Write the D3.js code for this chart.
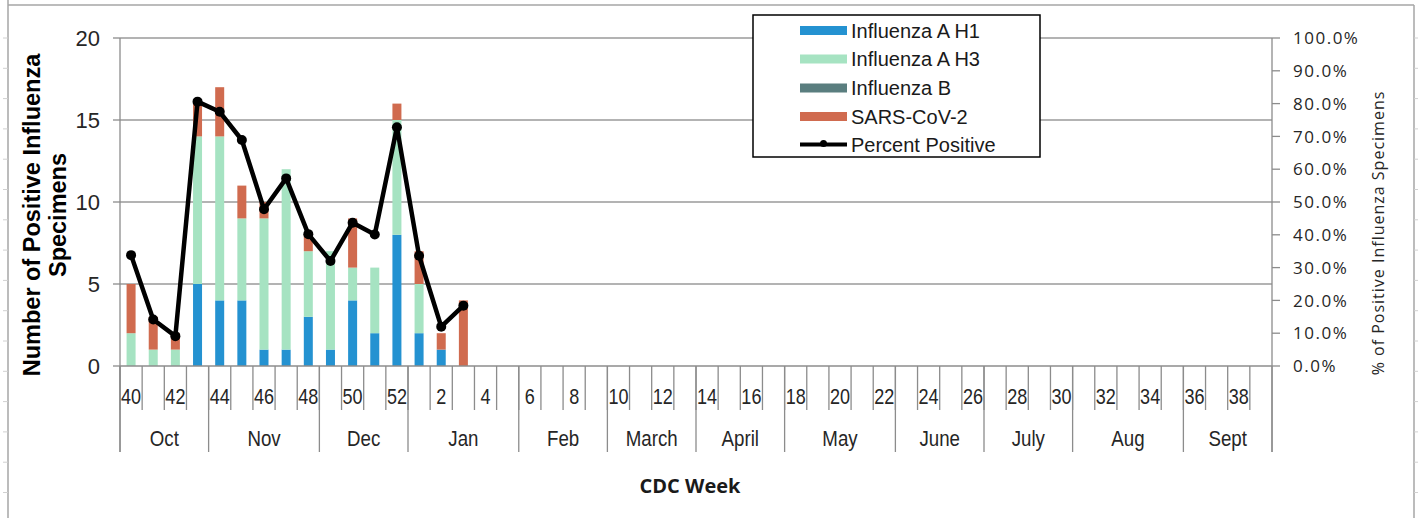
<!DOCTYPE html>
<html>
<head>
<title>Influenza positive specimens by CDC week</title>
<script src="https://cdn.jsdelivr.net/npm/d3@7"></script>
<style>
  body { margin: 0; background: #fff; }
  svg { display: block; }
</style>
</head>
<body>
<svg width="1418" height="518"></svg>
<script>
// CDC weeks for the season, 40..52 then 1..39
var weeks = [40,41,42,43,44,45,46,47,48,49,50,51,52,1,2,3,4,5,6,7,8,9,10,11,12,13,14,15,16,17,18,19,20,21,22,23,24,25,26,27,28,29,30,31,32,33,34,35,36,37,38,39]

var months = ["Oct", "Nov", "Dec", "Jan", "Feb", "March", "April", "May", "June", "July", "Aug", "Sept"]
var monthWeeks = [4, 5, 4, 5, 4, 4, 4, 5, 4, 4, 5, 4]

// counts per week (weeks with data only: 40 .. 3)
var fluH1   = [0, 0, 0, 5, 4, 4, 1, 1, 3, 1, 4, 2, 8, 2, 1, 0]
var fluH3   = [2, 1, 1, 9, 10, 5, 8, 11, 4, 6, 2, 4, 7, 3, 0, 0]
var fluB    = [0, 0, 0, 0, 0, 0, 0, 0, 0, 0, 0, 0, 0, 0, 0, 0]
var sarsCov = [3, 2, 1, 2, 3, 2, 1, 0, 1, 0, 3, 0, 1, 2, 1, 4]

var pctPositive = [0.338, 0.142, 0.091, 0.806, 0.775, 0.689, 0.478, 0.572, 0.402, 0.32, 0.437, 0.401, 0.728, 0.336, 0.12, 0.184]

var leftTicks = [0, 5, 10, 15, 20]
var rightTicks = [0, 0.1, 0.2, 0.3, 0.4, 0.5, 0.6, 0.7, 0.8, 0.9, 1]

var seriesNames = ["Influenza A H1", "Influenza A H3", "Influenza B", "SARS-CoV-2"]
var seriesColors = ["#2492d1", "#a6e3c2", "#5a7e7f", "#d06b4f"]

var svg = d3.select("svg")

var plotL = 120, plotR = 1272, plotT = 38, plotB = 366
var axisColor = "#8c8c8c"

var x = d3.scaleBand().domain(weeks).range([plotL, plotR]).padding(0)
var yL = d3.scaleLinear().domain([0, 20]).range([plotB, plotT])
var yR = d3.scaleLinear().domain([0, 1]).range([plotB, plotT])

// outer frame with faint cell ticks
svg.append("line").attr("x1", 8).attr("x2", 8).attr("y1", 0).attr("y2", 518).attr("stroke", "#a6a6a6").attr("stroke-width", 1.5)
svg.append("line").attr("x1", 1414).attr("x2", 1414).attr("y1", 5).attr("y2", 518).attr("stroke", "#a6a6a6").attr("stroke-width", 1.5)
svg.append("line").attr("x1", 8).attr("x2", 1414).attr("y1", 5).attr("y2", 5).attr("stroke", "#a6a6a6").attr("stroke-width", 1.5)
var cellTicks = d3.range(38, 518, 30.3)
svg.selectAll(".cellL").data(cellTicks).enter().append("line")
  .attr("x1", 3).attr("x2", 8).attr("y1", d => d).attr("y2", d => d)
  .attr("stroke", "#d0d0d0")
svg.selectAll(".cellR").data(cellTicks).enter().append("line")
  .attr("x1", 1414).attr("x2", 1418).attr("y1", d => d).attr("y2", d => d)
  .attr("stroke", "#d0d0d0")

// gridlines
svg.append("g").selectAll("line").data(leftTicks.slice(1)).enter().append("line")
  .attr("x1", plotL).attr("x2", plotR)
  .attr("y1", d => yL(d)).attr("y2", d => yL(d))
  .attr("stroke", "#9a9a9a").attr("stroke-width", 1.3)

// stacked bars
var rows = weeks.slice(0, fluH1.length).map(function(w, i) {
  return { week: w, "Influenza A H1": fluH1[i], "Influenza A H3": fluH3[i], "Influenza B": fluB[i], "SARS-CoV-2": sarsCov[i] }
})
var stacked = d3.stack().keys(seriesNames)(rows)
var barW = 9

svg.append("g").selectAll("g").data(stacked).enter().append("g")
  .attr("fill", (d, i) => seriesColors[i])
  .selectAll("rect").data(d => d).enter().append("rect")
  .attr("x", d => x(d.data.week) + x.bandwidth() / 2 - barW / 2)
  .attr("y", d => yL(d[1]))
  .attr("width", barW)
  .attr("height", d => yL(d[0]) - yL(d[1]))

// axes
svg.append("line").attr("x1", plotL).attr("x2", plotL).attr("y1", plotT).attr("y2", 452).attr("stroke", axisColor).attr("stroke-width", 1.3)
svg.append("line").attr("x1", plotL).attr("x2", plotR).attr("y1", plotB).attr("y2", plotB).attr("stroke", axisColor).attr("stroke-width", 1.3)
svg.append("line").attr("x1", plotR).attr("x2", plotR).attr("y1", plotT).attr("y2", 452).attr("stroke", axisColor).attr("stroke-width", 1.3)

svg.append("g").selectAll("line").data(leftTicks).enter().append("line")
  .attr("x1", plotL - 7).attr("x2", plotL).attr("y1", d => yL(d)).attr("y2", d => yL(d))
  .attr("stroke", axisColor).attr("stroke-width", 1.3)
svg.append("g").selectAll("text").data(leftTicks).enter().append("text")
  .attr("x", 100).attr("y", d => yL(d)).attr("dy", "0.36em")
  .attr("text-anchor", "end")
  .style("font", "22px 'Liberation Sans', Arial, sans-serif").attr("fill", "#262626")
  .text(d => d)

svg.append("g").selectAll("line").data(rightTicks).enter().append("line")
  .attr("x1", plotR).attr("x2", plotR + 8).attr("y1", d => yR(d)).attr("y2", d => yR(d))
  .attr("stroke", axisColor).attr("stroke-width", 1.3)
svg.append("g").selectAll("text").data(rightTicks).enter().append("text")
  .attr("x", 1293).attr("y", d => yR(d)).attr("dy", "0.36em")
  .style("font", "17px 'Open Sans', sans-serif").style("letter-spacing", "1.5px").attr("fill", "#262626")
  .text(d => d3.format(".1%")(d))

// week ticks and labels
svg.append("g").selectAll("line").data(weeks).enter().append("line")
  .attr("x1", d => x(d)).attr("x2", d => x(d)).attr("y1", plotB).attr("y2", 410)
  .attr("stroke", axisColor).attr("stroke-width", 1.3)
svg.append("g").selectAll("text").data(weeks.filter((d, i) => i % 2 == 0)).enter().append("text")
  .attr("transform", d => "translate(" + (x(d) + x.bandwidth() / 2) + ",404) scale(0.82,1)")
  .attr("text-anchor", "middle")
  .style("font", "22px 'Liberation Sans', Arial, sans-serif").attr("fill", "#262626")
  .text(d => d)

// month groups
var monthStart = []
var acc = 0
monthWeeks.forEach(function(n) { monthStart.push(acc); acc += n })
svg.append("g").selectAll("line").data(monthStart.concat([weeks.length])).enter().append("line")
  .attr("x1", d => plotL + d * x.step()).attr("x2", d => plotL + d * x.step())
  .attr("y1", plotB).attr("y2", 452)
  .attr("stroke", axisColor).attr("stroke-width", 1.3)
svg.append("g").selectAll("text").data(months).enter().append("text")
  .attr("transform", (d, i) => "translate(" + (plotL + (monthStart[i] + monthWeeks[i] / 2) * x.step()) + ",446) scale(0.85,1)")
  .attr("text-anchor", "middle")
  .style("font", "22px 'Liberation Sans', Arial, sans-serif").attr("fill", "#262626")
  .text(d => d)

// percent positive line
var pts = pctPositive.map((p, i) => [x(weeks[i]) + x.bandwidth() / 2, yR(p)])
svg.append("path").attr("d", d3.line()(pts))
  .attr("fill", "none").attr("stroke", "#000").attr("stroke-width", 4.5).attr("stroke-linejoin", "round")
svg.append("g").selectAll("circle").data(pts).enter().append("circle")
  .attr("cx", d => d[0]).attr("cy", d => d[1]).attr("r", 5).attr("fill", "#000")

// axis titles
var yTitle = svg.append("text").attr("transform", "translate(40,215) rotate(-90)")
  .attr("text-anchor", "middle")
  .style("font", "bold 23.5px 'Liberation Sans', Arial, sans-serif").attr("fill", "#000")
yTitle.append("tspan").attr("x", 0).attr("y", 0).text("Number of Positive Influenza")
yTitle.append("tspan").attr("x", 0).attr("y", 26).text("Specimens")

svg.append("text").attr("transform", "translate(1384,233) rotate(-90)")
  .attr("text-anchor", "middle")
  .style("font", "16px 'Open Sans', sans-serif").style("letter-spacing", "1px").attr("fill", "#262626")
  .text("% of Positive Influenza Specimens")

svg.append("text").attr("x", 690).attr("y", 493).attr("text-anchor", "middle")
  .style("font", "bold 20px 'Open Sans', sans-serif").attr("fill", "#1a1a1a")
  .text("CDC Week")

// legend
var lg = svg.append("g")
lg.append("rect").attr("x", 753).attr("y", 15).attr("width", 287).attr("height", 142)
  .attr("fill", "#fff").attr("stroke", "#000").attr("stroke-width", 1.5)
var rowY = [30.5, 59, 88, 116.5, 144.5]
lg.selectAll(".sw").data(seriesNames).enter().append("rect")
  .attr("x", 800).attr("y", (d, i) => rowY[i] - 4.5).attr("width", 47).attr("height", 9)
  .attr("fill", (d, i) => seriesColors[i])
lg.append("line").attr("x1", 800).attr("x2", 847).attr("y1", rowY[4]).attr("y2", rowY[4])
  .attr("stroke", "#000").attr("stroke-width", 4)
lg.append("circle").attr("cx", 823.5).attr("cy", rowY[4] - 1).attr("r", 3.5).attr("fill", "#000")
lg.selectAll(".lt").data(seriesNames.concat(["Percent Positive"])).enter().append("text")
  .attr("x", 851).attr("y", (d, i) => rowY[i]).attr("dy", "0.36em")
  .style("font", "20px 'Liberation Sans', Arial, sans-serif").attr("fill", "#1a1a1a")
  .text(d => d)
</script>
</body>
</html>
